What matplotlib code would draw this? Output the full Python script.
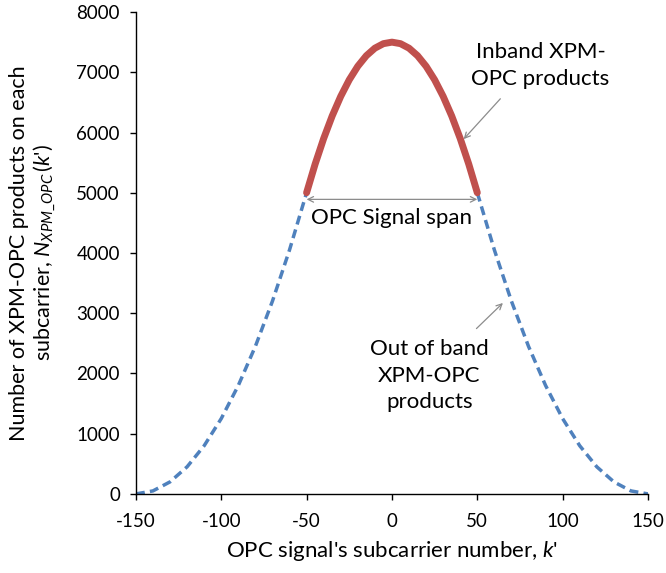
import matplotlib
matplotlib.use("Agg")
import matplotlib.pyplot as plt

plt.rcParams["font.family"] = ["Lato", "DejaVu Sans"]
plt.rcParams["mathtext.fontset"] = "custom"
plt.rcParams["mathtext.rm"] = "Lato"
plt.rcParams["mathtext.it"] = "Lato:italic"
plt.rcParams["axes.unicode_minus"] = False

# out-of-band products (left and right wings, dashed blue)
k_left = [-150, -140, -130, -120, -110, -100, -90, -80, -70, -60, -50]
n_left = [0, 50, 200, 450, 800, 1250, 1800, 2450, 3200, 4050, 5000]
k_right = [50, 60, 70, 80, 90, 100, 110, 120, 130, 140, 150]
n_right = [5000, 4050, 3200, 2450, 1800, 1250, 800, 450, 200, 50, 0]

# inband products (thick red arc)
k_in = [-50, -45, -40, -35, -30, -25, -20, -15, -10, -5, 0,
        5, 10, 15, 20, 25, 30, 35, 40, 45, 50]
n_in = [5000, 5475, 5900, 6275, 6600, 6875, 7100, 7275, 7400, 7475, 7500,
        7475, 7400, 7275, 7100, 6875, 6600, 6275, 5900, 5475, 5000]

xticks = [-150, -100, -50, 0, 50, 100, 150]
yticks = [0, 1000, 2000, 3000, 4000, 5000, 6000, 7000, 8000]

red = "#C0504D"
blue = "#4F81BD"
grey = "#8C8C8C"

fig = plt.figure(figsize=(6.66, 5.73), dpi=100)
ax = fig.add_axes([0.204, 0.138, 0.769, 0.841])

ax.plot(k_left, n_left, color=blue, lw=2.5, ls=(0, (2.6, 1.5)))
ax.plot(k_right, n_right, color=blue, lw=2.5, ls=(0, (2.6, 1.5)))
ax.plot(k_in, n_in, color=red, lw=5, solid_capstyle="round")

ax.set_xlim(-150, 150)
ax.set_ylim(0, 8000)
ax.set_xticks(xticks)
ax.set_yticks(yticks)
ax.tick_params(labelsize=13.5, length=4.5, width=1, color="black", direction="out")
ax.tick_params(axis="x", pad=9)
ax.tick_params(axis="y", pad=7)
for s in ["top", "right"]:
    ax.spines[s].set_visible(False)
for s in ["left", "bottom"]:
    ax.spines[s].set_linewidth(1)

ax.set_xlabel("OPC signal's subcarrier number, $k$'", fontsize=16, labelpad=7)
ax.set_ylabel("Number of XPM-OPC products on each\n"
              r"subcarrier, $N_{XPM\_OPC}\,$($k$')", fontsize=15.5,
              labelpad=14, linespacing=1.1)

# signal span double arrow
ax.annotate("", xy=(-50, 4890), xytext=(50, 4890),
            arrowprops=dict(arrowstyle="<->", color=grey, lw=0.9,
                            shrinkA=0, shrinkB=0))
ax.text(0, 4580, "OPC Signal span", fontsize=16, ha="center", va="center")

# inband label with pointer
ax.text(87, 7110, "Inband XPM-\nOPC products", fontsize=16,
        ha="center", va="center", linespacing=1.4)
ax.annotate("", xy=(42, 5890), xytext=(63.5, 6560),
            arrowprops=dict(arrowstyle="->", color=grey, lw=0.9,
                            shrinkA=0, shrinkB=0))

# out-of-band label with pointer
ax.text(22, 1960, "Out of band\nXPM-OPC\nproducts", fontsize=16,
        ha="center", va="center", linespacing=1.4)
ax.annotate("", xy=(65, 3170), xytext=(49.5, 2745),
            arrowprops=dict(arrowstyle="->", color=grey, lw=0.9,
                            shrinkA=0, shrinkB=0))

fig.savefig("out.png", dpi=100)
